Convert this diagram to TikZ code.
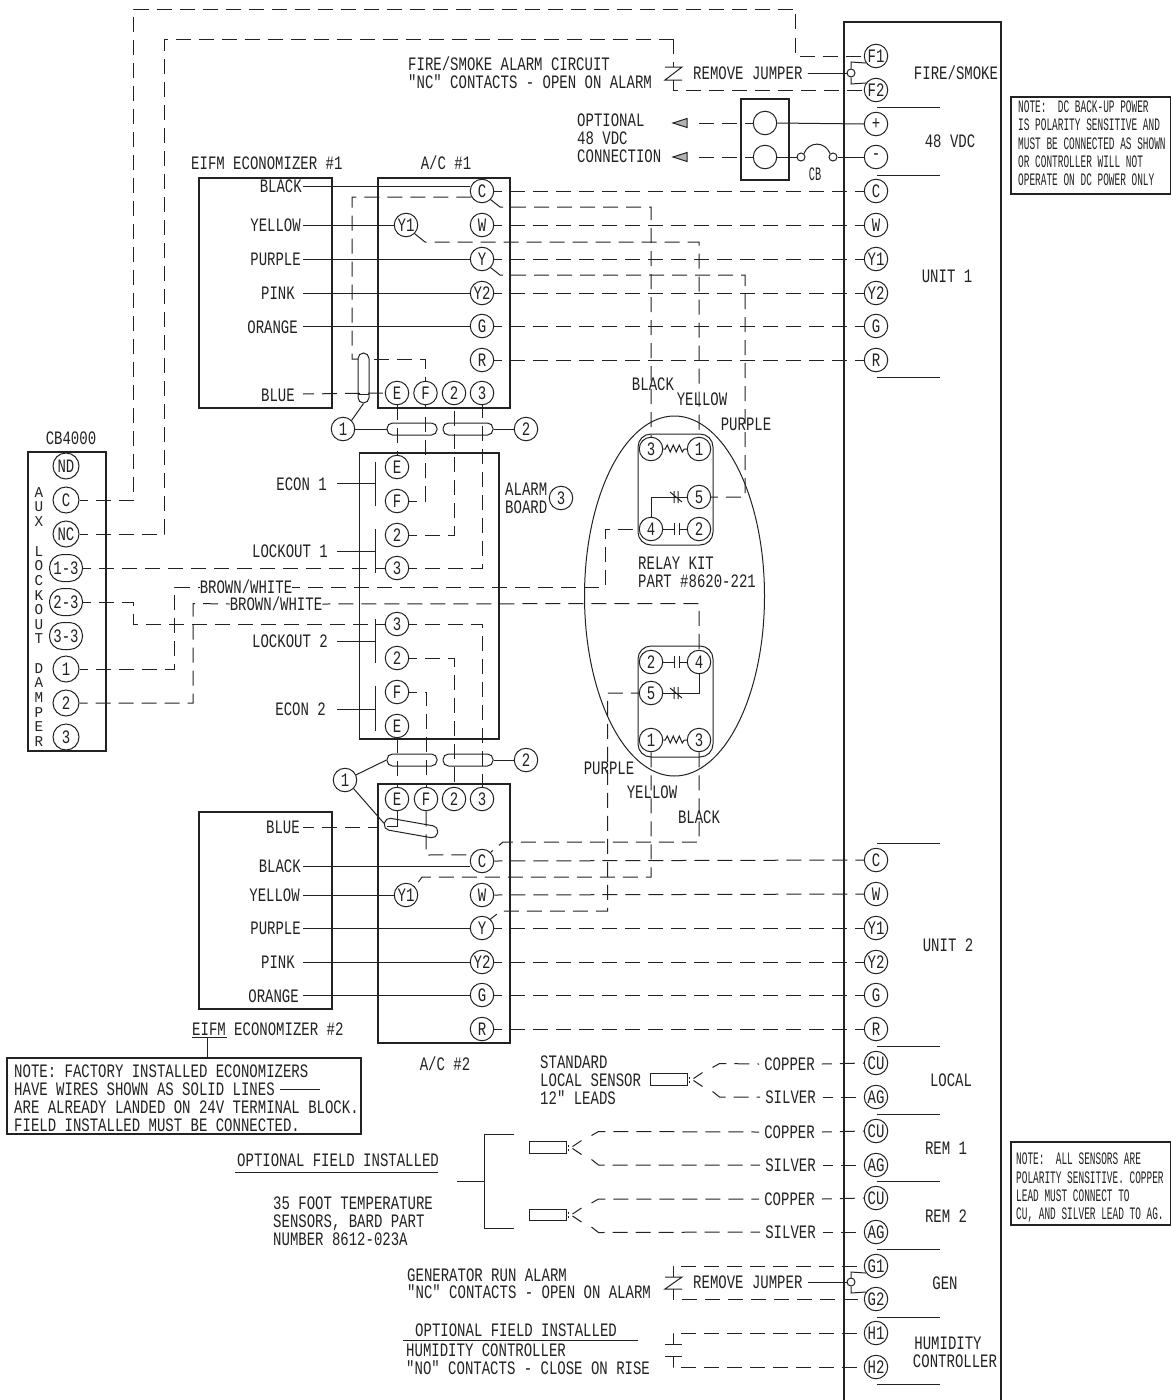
\documentclass[tikz,border=0pt]{standalone}
\usepackage{fontspec}
\newfontfamily\drfont[FakeStretch=0.737]{Liberation Mono}
\newfontfamily\drsmall[FakeStretch=0.54]{Liberation Mono}
\newfontfamily\drvert[FakeStretch=0.95]{Liberation Mono}
\definecolor{ink}{HTML}{222222}
\tikzset{
  every node/.style={text=ink},
  wire/.style={line width=1pt,draw=ink},
  dsh/.style={wire,dash pattern=on 15pt off 8pt,dash phase=7pt},
  frame/.style={line width=1.25pt,draw=ink},
  term/.style={circle,draw=ink,line width=1pt,minimum size=23.5pt,inner sep=0pt,font=\drfont\fontsize{19}{20}\selectfont},
  wterm/.style={rectangle,rounded corners=13pt,draw=ink,line width=1pt,minimum width=33pt,minimum height=27pt,inner sep=0pt,font=\drfont\fontsize{19}{20}\selectfont},
  lab/.style={inner sep=0pt,anchor=west,text height=12.5pt,text depth=0pt,font=\drfont\fontsize{19}{20}\selectfont},
  rlab/.style={lab,anchor=east},
  clab/.style={lab,anchor=center},
  vlab/.style={inner sep=0pt,anchor=center,text height=8pt,text depth=0pt,font=\drvert\fontsize{15}{8}\selectfont},
  slab/.style={inner sep=0pt,anchor=west,text height=12pt,text depth=0pt,font=\drsmall\fontsize{17.5}{18}\selectfont},
  caps/.style={rectangle,rounded corners=5.5pt,draw=ink,line width=1pt,inner sep=0pt},
  relaybox/.style={rectangle,rounded corners=13pt,draw=ink,line width=1pt,inner sep=0pt,minimum width=75pt,minimum height=111pt},
  sens/.style={rectangle,draw=ink,line width=1pt,inner sep=0pt,minimum width=37pt,minimum height=11.5pt},
  tinyc/.style={circle,draw=ink,line width=1pt,minimum size=8pt,inner sep=0pt},
}
\begin{document}
\begin{tikzpicture}[x=1pt,y=-1pt]
\useasboundingbox (0,0) rectangle (1170,1400);
\fill[white] (0,0) rectangle (1170,1400);

% ---------- right panel
\draw[frame] (844,1400) -- (844,22) -- (1001,22) -- (1001,1400);
\foreach \y in {107,175,377,843,1046,1114,1181,1249,1317,1384}
  \draw[wire] (877,\y) -- (940,\y);
\foreach \nm/\y/\t in {fFa/56/F1,fFb/90/F2,fP/124/+,fM/157/-,uC/191/C,uW/225/W,uYa/259/Y1,uYb/293/Y2,uG/326/G,uR/360/R,
  vC/860/C,vW/894/W,vYa/928/Y1,vYb/962/Y2,vG/995/G,vR/1029/R,lCU/1063/CU,lAG/1097/AG,mCU/1131/CU,mAG/1165/AG,nCU/1198/CU,nAG/1232/AG,gA/1266/G1,gB/1299/G2,hA/1333/H1,hB/1367/H2}
  \node[term] (\nm) at (876,\y) {\t};
\node[clab] (pFire) at (956,73) {FIRE/SMOKE};
\node[clab] (pVdc) at (950,141) {48 VDC};
\node[clab] (pUa) at (947,276) {UNIT 1};
\node[clab] (pUb) at (948,945) {UNIT 2};
\node[clab] (pLoc) at (951,1080) {LOCAL};
\node[clab] (pRa) at (946,1148) {REM 1};
\node[clab] (pRb) at (946,1216) {REM 2};
\node[clab] (pGen) at (945,1283) {GEN};
\node[clab] (pHuma) at (948,1343) {HUMIDITY};
\node[clab] (pHumb) at (955,1361) {CONTROLLER};

% ---------- notes right
\draw[frame] (1011,97) rectangle (1171,194);
\node[slab] (na1) at (1018,106) {NOTE:~~DC BACK-UP POWER};
\node[slab] (na2) at (1018,124) {IS POLARITY SENSITIVE AND};
\node[slab] (na3) at (1018,143) {MUST BE CONNECTED AS SHOWN};
\node[slab] (na4) at (1018,161) {OR CONTROLLER WILL NOT};
\node[slab] (na5) at (1018,179) {OPERATE ON DC POWER ONLY};
\draw[frame] (1011,1142) rectangle (1171,1225);
\node[slab] (nb1) at (1016,1158) {NOTE:~~ALL SENSORS ARE};
\node[slab] (nb2) at (1016,1177) {POLARITY SENSITIVE. COPPER};
\node[slab] (nb3) at (1016,1195) {LEAD MUST CONNECT TO};
\node[slab] (nb4) at (1016,1213) {CU, AND SILVER LEAD TO AG.};

% ---------- fire/smoke alarm
\node[lab] (fsa) at (408,64) {FIRE/SMOKE ALARM CIRCUIT};
\node[lab] (fsb) at (408,82) {"NC" CONTACTS - OPEN ON ALARM};
\node[lab] (fsj) at (693,73) {REMOVE JUMPER};
\node[tinyc] (fsd) at (851,73) {};
\draw[wire] (fsj.east) ++(5,0) -- (fsd.west);
\draw[wire] (fFa.215) -- (851,62) -- (fsd.north);
\draw[wire] (fFb.145) -- (851,84) -- (fsd.south);
\draw[wire] (665,67) -- (682,67) -- (665,80) -- (682,80);
\draw[dsh,dash phase=0pt] (673,39) -- (673,67);
\draw[dsh,dash phase=0pt] (673,80) -- (673,90) -- (fFb.west);

% ---------- 48 VDC
\node[lab] (vda) at (577,120) {OPTIONAL};
\node[lab] (vdb) at (577,138) {48 VDC};
\node[lab] (vdc) at (577,156) {CONNECTION};
\draw[frame] (741,99) rectangle (789,180);
\node[term] (bP) at (765,123) {};
\node[term] (bM) at (765,157) {};
\node[tinyc] (cbL) at (801,157) {};
\node[tinyc] (cbR) at (833,157) {};
\node[clab] (cbT) at (815,174) {\drsmall CB};
\coordinate (arA) at (673,123);
\coordinate (arB) at (673,157);
\draw[wire,fill=ink,fill opacity=0.35] (arA) -- (687,118.5) -- (687,127.5) -- cycle;
\draw[wire,fill=ink,fill opacity=0.35] (arB) -- (687,152.5) -- (687,161.5) -- cycle;
\draw[dsh] (bP.west) -- (692,123);
\draw[dsh] (bM.west) -- (692,157);
\draw[wire] (bP.east) -- (fP.west);
\draw[wire] (bM.east) -- (cbL.west);
\draw[wire] (cbR.east) -- (fM.west);
\draw[wire] (cbL.50) .. controls (809,141) and (825,141) .. (cbR.130);

% ---------- A/C 1 and EIFM 1
\draw[frame] (378,178) rectangle (510,408);
\draw[frame] (199,178) rectangle (332,408);
\node[lab] (ttA) at (191,163) {EIFM ECONOMIZER \#1};
\node[clab] (acA) at (446,163) {A/C \#1};
\foreach \nm/\x/\y/\t in {aC/482/191/C,aYa/406/225/Y1,aW/482/225/W,aY/482/259/Y,aYb/482/293/Y2,aG/482/326/G,aR/482/360/R,aE/397/393/E,aF/425.5/393/F,aTw/454/393/2,aTh/482/393/3}
  \node[term] (\nm) at (\x,\y) {\t};
\node[rlab] (aBk) at (302,186) {BLACK};
\node[rlab] (aYe) at (301,225) {YELLOW};
\node[rlab] (aPu) at (301,259) {PURPLE};
\node[rlab] (aPi) at (295,293) {PINK};
\node[rlab] (aOr) at (298,327) {ORANGE};
\node[rlab] (aBl) at (295,395) {BLUE};
\coordinate (wBk) at (303,186);
\coordinate (wYe) at (303,225);
\coordinate (wPu) at (303,259);
\coordinate (wPi) at (303,293);
\coordinate (wOr) at (303,326);
\coordinate (wBl) at (303,394);
\draw[wire] (wBk) -- (aC.west |- wBk);
\draw[wire] (wYe) -- (aYa.west);
\draw[wire] (wPu) -- (aY.west);
\draw[wire] (wPi) -- (aYb.west);
\draw[wire] (wOr) -- (aG.west);
\draw[dsh,dash phase=4pt] (wBl) -- (aE.west);
\node[caps,minimum width=11pt,minimum height=50pt] (aCapV) at (363.5,378) {};
\node[term] (aOne) at (343,429) {1};
\node[caps,minimum width=50pt,minimum height=12pt] (aCapA) at (412,429) {};
\node[caps,minimum width=50pt,minimum height=12pt] (aCapB) at (468,429) {};
\node[term] (aTwo) at (526,429) {2};
\draw[wire] (aOne.45) -- (aCapV.south);
\draw[wire] (aOne.east) -- (aCapA.west);
\draw[wire] (aCapB.east) -- (aTwo.west);
\draw[wire] (aCapV.south west) ++(0,-9) -- ++(11,0);
\draw[dsh,dash phase=0pt] (aC.210) -- (352,197) -- (352,359) -- (358,359);
\draw[dsh,dash phase=0pt] (374,359) -- (425.5,359) -- (aF.north);
\foreach \nm/\y in {uC/191,uW/225,uYa/259,uYb/293,uG/326,uR/360}
  \draw[dsh] (494,\y) -- (\nm.west);

% taps to relay
\draw[dsh,dash phase=0pt] (aC.-45) -- (500,207) -- (651,207) -- (651,437);
\draw[dsh,dash phase=0pt] (aYa.-45) -- (425,242) -- (699,242) -- (699,437);
\draw[dsh,dash phase=0pt] (aY.-45) -- (500,275) -- (745,275) -- (745,497) -- (711,497);

% ---------- alarm board
\draw[frame] (359.5,453) rectangle (499,739);
\foreach \nm/\y/\t in {bdE/467/E,bdF/501/F,bdTw/535/2,bdTh/568/3,bdTi/624/3,bdTj/658/2,bdG/692/F,bdD/726/E}
  \node[term] (\nm) at (397,\y) {\t};
\foreach \a/\b/\m in {462/506/483,529/573/551,619/663/641,686/731/709}{
  \draw[wire] (375.5,\a) -- (375.5,\b);
  \draw[wire] (337,\m) -- (375.5,\m);
}
\node[rlab] (lEa) at (327,484) {ECON 1};
\node[rlab] (lLa) at (328,551) {LOCKOUT 1};
\node[rlab] (lLb) at (328,641) {LOCKOUT 2};
\node[rlab] (lEb) at (326,709) {ECON 2};
\node[lab] (alA) at (505,489) {ALARM};
\node[lab] (alB) at (505,507) {BOARD};
\node[term] (alC) at (561,498) {3};
\draw[dsh,dash phase=0pt] (aE.south) -- (bdE.north);
\draw[dsh] (bdF.east) -- (425.5,501) -- (aF.south);
\draw[dsh] (bdTw.east) -- (454,535) -- (aTw.south);
\draw[dsh] (bdTh.east) -- (482,568) -- (aTh.south);

% ---------- CB4000
\draw[frame] (28,452) rectangle (106,751);
\node[clab] (cbTitle) at (71,438) {CB4000};
\node[term,minimum size=26pt] (cND) at (66,466) {ND};
\node[term,minimum size=26pt] (cC) at (66,500) {C};
\node[term,minimum size=26pt] (cNC) at (66,534) {NC};
\node[wterm] (cA) at (66,568) {1-3};
\node[wterm] (cB) at (66,602) {2-3};
\node[wterm] (cD) at (66,636) {3-3};
\node[term,minimum size=26pt] (cOne) at (66,669) {1};
\node[term,minimum size=26pt] (cTwo) at (66,703) {2};
\node[term,minimum size=26pt] (cThr) at (66,737) {3};
\foreach \c/\y in {A/493,U/507,X/522,L/552,O/566,C/581,K/596,O/610,U/625,T/639,D/669,A/683,M/698,P/713,E/727,R/742}
  \node[vlab] (v\y) at (39,\y) {\c};
\draw[dsh] (cC.east) -- (133.5,500) -- (133.5,9) -- (795,9) -- (795,56) -- (fFa.west);
\draw[dsh] (cNC.east) -- (164.5,534) -- (164.5,39) -- (673,39);
\draw[dsh] (cA.east) -- (bdTh.west);
\draw[dsh] (cB.east) -- (133.5,602) -- (133.5,624) -- (bdTi.west);
\node[clab] (bwA) at (246,587) {BROWN/WHITE};
\node[clab] (bwB) at (276,604) {BROWN/WHITE};
\draw[dsh] (cOne.east) -- (174.5,669) -- (174.5,587) -- (bwA.west);
\draw[dsh] (cTwo.east) -- (193,703) -- (193,603.5) -- (bwB.west);

% ---------- relay kit
\draw[wire] (674.5,596) ellipse [x radius=90,y radius=180];
\node[relaybox] (rbA) at (675.5,489.5) {};
\node[relaybox] (rbB) at (675.5,701.5) {};
\foreach \nm/\x/\y/\t in {raTh/651/449/3,raOn/699/449/1,raFi/699/497/5,raFo/651/529/4,raTw/699/529/2,
   rbTw/651/662/2,rbFo/699/662/4,rbFi/651/693/5,rbOn/651/740/1,rbTh/699/740/3}
  \node[term] (\nm) at (\x,\y) {\t};
\node[lab] (rkA) at (638,563) {RELAY KIT};
\node[lab] (rkB) at (638,581) {PART \#8620-221};
\draw[wire] (raTh.east) -- ++(2,0) -- ++(2,-4) -- ++(3,7) -- ++(3,-7) -- ++(3,7) -- ++(3,-7) -- ++(3,7) -- ++(2,-3) -- (raOn.west);
\draw[wire] (rbOn.east) -- ++(2,0) -- ++(2,-4) -- ++(3,7) -- ++(3,-7) -- ++(3,7) -- ++(3,-7) -- ++(3,7) -- ++(2,-3) -- (rbTh.west);
\draw[wire] (raFi.west) -- (651,497) -- (raFo.north);
\draw[wire] (674,491) -- (674,503) (678,491) -- (678,503) (670,492) -- (682,502);
\draw[wire] (raFo.east) -- (674,529) (674,523) -- (674,535) (679,523) -- (679,535) (679,529) -- (raTw.west);
\draw[wire] (rbTw.east) -- (674,662) (674,656) -- (674,668) (679,656) -- (679,668) (679,662) -- (rbFo.west);
\draw[wire] (rbFo.south) -- (699,693) -- (rbFi.east);
\draw[wire] (674,687) -- (674,699) (678,687) -- (678,699) (670,688) -- (682,698);
\draw[dsh] (bwA.east) -- (605,587) -- (605,529) -- (raFo.west);
\draw[dsh] (bwB.east) -- (699,603.5) -- (699,650);
\draw[dsh] (rbFi.west) -- (607.5,693) -- (607.5,911) -- (501,911) -- (490.5,919);
\draw[dsh,dash phase=0pt] (rbOn.south) -- (651,877) -- (422,877) -- (417,884);
\draw[dsh,dash phase=0pt] (rbTh.south) -- (699,842) -- (503,842) -- (491,852);
\node[clab] (pBkA) at (653,384) {BLACK};
\node[clab] (pYeA) at (702,399) {YELLOW};
\node[clab] (pPuA) at (746,424) {PURPLE};
\node[clab] (pPuB) at (609,768) {PURPLE};
\node[clab] (pYeB) at (652,792) {YELLOW};
\node[clab] (pBkB) at (699,817) {BLACK};

% ---------- A/C 2 and EIFM 2
\draw[frame] (378,784) rectangle (510,1043);
\draw[frame] (199,812) rectangle (332,1009);
\node[caps,minimum width=50pt,minimum height=12pt] (bCapA) at (412,760) {};
\node[caps,minimum width=50pt,minimum height=12pt] (bCapB) at (468,760) {};
\node[term] (bTwo) at (526,760) {2};
\node[term] (bOne) at (345,780) {1};
\node[caps,minimum width=54pt,minimum height=12pt,rotate=-10] (bCapT) at (411,828) {};
\draw[wire] (bCapB.east) -- (bTwo.west);
\draw[wire] (bOne.25) -- (bCapA.west);
\draw[wire] (bOne.-45) -- (bCapT.west);
\foreach \nm/\x/\y/\t in {eE/397/799/E,eF/426/799/F,eTw/454/799/2,eTh/482/799/3,eC/482/861/C,eYa/406/895/Y1,eW/482/895/W,eY/482/928/Y,eYb/482/962/Y2,eG/482/995/G,eR/482/1029/R}
  \node[term] (\nm) at (\x,\y) {\t};
\draw[dsh,dash phase=0pt] (bdD.south) -- (eE.north);
\draw[dsh] (bdG.east) -- (426,692) -- (eF.north);
\draw[dsh] (bdTj.east) -- (454,658) -- (eTw.north);
\draw[dsh] (bdTi.east) -- (482,624) -- (eTh.north);
\draw[wire] (eE.south) -- (397,826) -- (387,826);
\draw[dsh,dash phase=0pt] (eF.south) -- (426,855) -- (eC.150);
\foreach \nm/\st/\y in {vC/eC/861,vW/eW/894,vYa/eY/928,vYb/eYb/962,vG/eG/995,vR/eR/1029}
  \draw[dsh] (\st.east) -- (\nm.west);
\node[rlab] (eBl) at (300,827) {BLUE};
\node[rlab] (eBk) at (301,866) {BLACK};
\node[rlab] (eYe) at (300,895) {YELLOW};
\node[rlab] (ePu) at (301,928) {PURPLE};
\node[rlab] (ePi) at (295,962) {PINK};
\node[rlab] (eOr) at (299,996) {ORANGE};
\coordinate (xBl) at (303,827);
\coordinate (xBk) at (303,866);
\coordinate (xYe) at (303,895);
\coordinate (xPu) at (303,928);
\coordinate (xPi) at (303,962);
\coordinate (xOr) at (303,995);
\draw[dsh,dash phase=4pt] (xBl) -- (377,827);
\draw[wire] (xBk) -- (eC.west |- xBk);
\draw[wire] (xYe) -- (eYa.west);
\draw[wire] (xPu) -- (eY.west);
\draw[wire] (xPi) -- (eYb.west);
\draw[wire] (xOr) -- (eG.west);
\node[clab] (acB) at (445,1064) {A/C \#2};
\node[lab] (ttB) at (192,1029) {EIFM ECONOMIZER \#2};
\draw[wire] (192,1037) -- (227,1037);
\draw[wire] (207,1037) -- (207,1058);

% note left
\draw[frame] (7,1058) rectangle (361,1134);
\node[lab] (ncA) at (14,1071) {NOTE: FACTORY INSTALLED ECONOMIZERS};
\node[lab] (ncB) at (14,1089) {HAVE WIRES SHOWN AS SOLID LINES};
\node[lab] (ncC) at (14,1107) {ARE ALREADY LANDED ON 24V TERMINAL BLOCK.};
\node[lab] (ncD) at (14,1125) {FIELD INSTALLED MUST BE CONNECTED.};
\draw[wire] (280,1089) -- (320,1089);

% ---------- sensors
\node[lab] (stA) at (540,1062) {STANDARD};
\node[lab] (stB) at (540,1080) {LOCAL SENSOR};
\node[lab] (stC) at (540,1098) {12" LEADS};
\node[lab] (opA) at (237,1160) {OPTIONAL FIELD INSTALLED};
\draw[wire] (235,1172) -- (438,1172);
\node[lab] (opB) at (273,1203) {35 FOOT TEMPERATURE};
\node[lab] (opC) at (273,1221) {SENSORS, BARD PART};
\node[lab] (opD) at (273,1239) {NUMBER 8612-023A};
\draw[wire] (514,1134) -- (484.5,1134) -- (484.5,1228) -- (514,1228);
\draw[wire] (457,1181) -- (484.5,1181);
\foreach \s/\cn/\an/\cl/\al/\sx/\sy/\cy/\ay in {sA/lCU/lAG/tCa/tSa/668.5/1079.5/1063/1097,sB/mCU/mAG/tCb/tSb/547.5/1147.5/1131/1165,sC/nCU/nAG/tCc/tSc/547.5/1215/1198/1232}{
  \node[sens] (\s) at (\sx,\sy) {};
  \draw[wire] (\s.east) ++(2,-3) -- ++(0,2) ++(0,2) -- ++(0,2);
  \draw[wire] (\s.east) ++(6,-1) -- ++(9,-6);
  \draw[wire] (\s.east) ++(6,1) -- ++(9,6);
  \node[clab] (\cl) at (789.5,\cy+1) {COPPER};
  \node[clab] (\al) at (790.5,\ay) {SILVER};
  \draw[dsh,dash phase=0pt] (\s.east) ++(25,-12) -- ++(7,-4) -- ([xshift=-5pt]\cl.west);
  \draw[dsh,dash phase=0pt] (\s.east) ++(25,12) -- ++(7,5.5) -- ([xshift=-5pt]\al.west);
  \draw[dsh,dash phase=5pt] ([xshift=7pt]\cl.east) -- (\cn.west);
  \draw[dsh,dash phase=5pt] ([xshift=7pt]\al.east) -- (\an.west);
}

% ---------- generator alarm
\node[lab] (geA) at (407,1275) {GENERATOR RUN ALARM};
\node[lab] (geB) at (407,1292) {"NC" CONTACTS - OPEN ON ALARM};
\node[lab] (geJ) at (693,1282) {REMOVE JUMPER};
\node[tinyc] (ged) at (851,1282) {};
\draw[wire] (geJ.east) ++(5,0) -- (ged.west);
\draw[wire] (gA.215) -- (851,1272) -- (ged.north);
\draw[wire] (gB.145) -- (851,1293) -- (ged.south);
\draw[wire] (665,1277) -- (682,1277) -- (665,1289) -- (682,1289);
\draw[dsh,dash phase=4pt] (673,1277) -- (673,1266) -- (gA.west);
\draw[dsh,dash phase=4pt] (673,1289) -- (673,1299) -- (gB.west);

% ---------- humidity
\node[lab] (huA) at (415,1330) {OPTIONAL FIELD INSTALLED};
\draw[wire] (403,1340) -- (638,1340);
\node[lab] (huB) at (406,1350) {HUMIDITY CONTROLLER};
\node[lab] (huC) at (406,1368) {"NO" CONTACTS - CLOSE ON RISE};
\draw[wire] (665,1344) -- (682,1344) (665,1356) -- (682,1356);
\draw[dsh,dash phase=4pt] (673,1344) -- (673,1333) -- (hA.west);
\draw[dsh,dash phase=4pt] (673,1356) -- (673,1367) -- (hB.west);
\end{tikzpicture}
\end{document}
